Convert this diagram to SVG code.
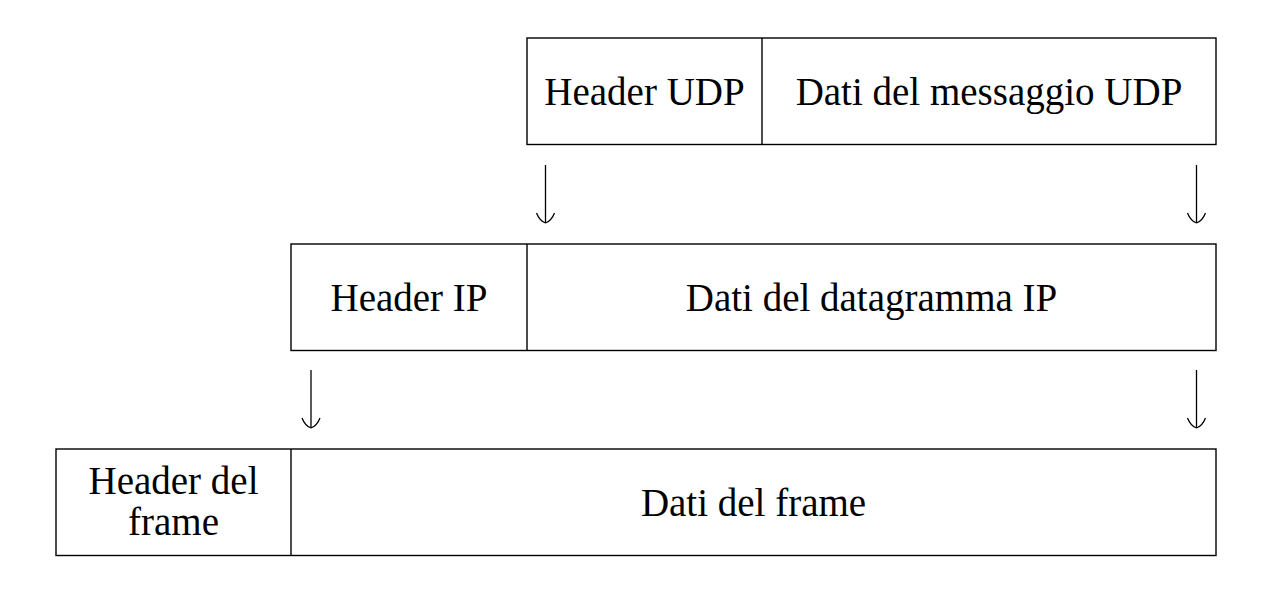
<svg xmlns="http://www.w3.org/2000/svg" width="1270" height="602" viewBox="0 0 1270 602">
<style>
.box{fill:#fff;stroke:#000;stroke-width:1.4}
.div{stroke:#000;stroke-width:1.4}
.t{font-family:"Liberation Serif","DejaVu Serif",serif;font-size:39px;fill:#000;text-anchor:middle}
.c{stroke:#000;stroke-width:1.3;fill:none}
</style>
<defs>
<marker id="to" viewBox="-12 -12 24 24" markerWidth="24" markerHeight="24" refX="0" refY="0" orient="auto" markerUnits="userSpaceOnUse" overflow="visible">
<path d="M -10 -9 C -5 -7 -1 -3 0 0 M -10 9 C -5 7 -1 3 0 0" fill="none" stroke="#000" stroke-width="1.3"/>
</marker>
</defs>
<rect width="1270" height="602" fill="#fff"/>
<g id="udp">
<rect class="box" x="527" y="38" width="689" height="106.5"/>
<line class="div" x1="762" y1="38" x2="762" y2="144.5"/>
<text class="t" x="644.5" y="105">Header UDP</text>
<text class="t" x="989" y="105">Dati del messaggio UDP</text>
</g>
<g id="ip">
<rect class="box" x="291" y="244" width="925" height="106.5"/>
<line class="div" x1="527" y1="244" x2="527" y2="350.5"/>
<text class="t" x="409" y="311">Header IP</text>
<text class="t" x="871.5" y="311">Dati del datagramma IP</text>
</g>
<g id="frame">
<rect class="box" x="56" y="449" width="1160" height="106.5"/>
<line class="div" x1="291" y1="449" x2="291" y2="555.5"/>
<text class="t" x="173.5" y="494">Header del</text>
<text class="t" x="173.5" y="535">frame</text>
<text class="t" x="753.5" y="516">Dati del frame</text>
</g>
<g id="connectors">
<path class="c" d="M 545.5 165 V 223" marker-end="url(#to)"/>
<path class="c" d="M 1196.5 165 V 223" marker-end="url(#to)"/>
<path class="c" d="M 311 370 V 428" marker-end="url(#to)"/>
<path class="c" d="M 1196.5 370 V 428" marker-end="url(#to)"/>
</g>
</svg>
